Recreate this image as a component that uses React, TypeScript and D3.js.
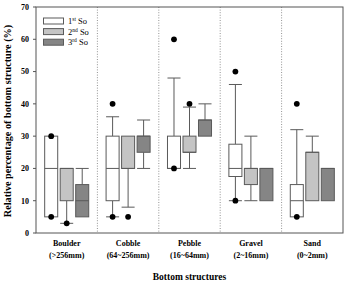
import React from 'react'
import * as d3 from 'd3'

// Data
const categories = ['Boulder', 'Cobble', 'Pebble', 'Gravel', 'Sand']
const subLabels = ['(>256mm)', '(64~256mm)', '(16~64mm)', '(2~16mm)', '(0~2mm)']
const seriesNames = ['1st', '2nd', '3rd']
const yTicks = [0, 10, 20, 30, 40, 50, 60, 70]

// per series, per category
const lowWhisker = [
  [5, 5, 20, 10, 5],
  [3, 8, 20, 10, 10],
  [5, 20, 30, 10, 10],
]
const q1 = [
  [5, 10, 20, 17.5, 5],
  [10, 20, 25, 15, 10],
  [5, 25, 30, 10, 10],
]
const median = [
  [20, 20, 20, 20, 10],
  [20, 20, 25, 20, 25],
  [10, 30, 35, 20, 20],
]
const q3 = [
  [30, 30, 30, 27.5, 15],
  [20, 30, 30, 20, 25],
  [15, 30, 35, 20, 20],
]
const highWhisker = [
  [30, 36, 48, 46, 32],
  [20, 30, 39, 30, 30],
  [20, 35, 40, 20, 20],
]
const outliers = [
  [[30, 5], [40, 5], [60, 20], [50, 10], [40, 5]],
  [[3], [5], [40], [], []],
  [[], [], [], [], []],
]

const fills = ['#ffffff', '#c4c4c4', '#858585']
const edge = '#5a5a5a'
const serif = '"Liberation Serif", "Times New Roman", serif'

export default function App() {
  const W = 346
  const H = 281
  const left = 36
  const right = 343
  const top = 7
  const bottom = 233

  const x = d3.scaleBand().domain(categories).range([left, right]).padding(0)
  const x1 = d3
    .scaleBand()
    .domain(seriesNames)
    .range([0, x.bandwidth()])
    .paddingInner(0.16)
    .paddingOuter(0.56)
  const y = d3.scaleLinear().domain([0, 70]).range([bottom, top])
  const bw = x1.bandwidth()

  return (
    <svg width={W} height={H} style={{ position: 'absolute', left: 0, top: 0 }} fontFamily={serif}>
      <rect x={0} y={0} width={W} height={H} fill="#fff" />

      {/* separators */}
      {categories.slice(1).map(c => (
        <line
          key={c}
          x1={x(c)}
          x2={x(c)}
          y1={top}
          y2={bottom}
          stroke="#777"
          strokeWidth={0.8}
          strokeDasharray="1,1.6"
        />
      ))}

      {/* boxes */}
      {seriesNames.map((s, si) =>
        categories.map((c, ci) => {
          const bx = (x(c) as number) + (x1(s) as number)
          const cx = bx + bw / 2
          return (
            <g key={s + c}>
              {highWhisker[si][ci] > q3[si][ci] && (
                <g stroke={edge} strokeWidth={1}>
                  <line x1={cx} x2={cx} y1={y(q3[si][ci])} y2={y(highWhisker[si][ci])} />
                  <line x1={bx} x2={bx + bw} y1={y(highWhisker[si][ci])} y2={y(highWhisker[si][ci])} />
                </g>
              )}
              {lowWhisker[si][ci] < q1[si][ci] && (
                <g stroke={edge} strokeWidth={1}>
                  <line x1={cx} x2={cx} y1={y(q1[si][ci])} y2={y(lowWhisker[si][ci])} />
                  <line x1={bx} x2={bx + bw} y1={y(lowWhisker[si][ci])} y2={y(lowWhisker[si][ci])} />
                </g>
              )}
              <rect
                x={bx}
                y={y(q3[si][ci])}
                width={bw}
                height={y(q1[si][ci]) - y(q3[si][ci])}
                fill={fills[si]}
                stroke={edge}
                strokeWidth={1}
              />
              <line x1={bx} x2={bx + bw} y1={y(median[si][ci])} y2={y(median[si][ci])} stroke={edge} strokeWidth={1} />
              {outliers[si][ci].map((v, k) => (
                <circle key={k} cx={cx} cy={y(v)} r={2.9} fill="#000" />
              ))}
            </g>
          )
        })
      )}

      {/* frame */}
      <rect x={left} y={top} width={right - left} height={bottom - top} fill="none" stroke="#555" strokeWidth={1} />

      {/* y axis */}
      {yTicks.map(t => (
        <g key={t}>
          <line x1={left - 3} x2={left} y1={y(t)} y2={y(t)} stroke="#555" />
          <text x={left - 7} y={y(t)} dy="0.35em" textAnchor="end" fontSize={8} fontWeight="bold">
            {t}
          </text>
        </g>
      ))}
      <text
        transform={`translate(10.5,${(top + bottom) / 2 + 1}) rotate(-90)`}
        textAnchor="middle"
        fontSize={10.2}
        fontWeight="bold"
      >
        Relative percentage of bottom structure (%)
      </text>

      {/* x labels */}
      {categories.map((c, i) => (
        <g key={c} fontSize={8} fontWeight="bold" textAnchor="middle">
          <text x={(x(c) as number) + x.bandwidth() / 2} y={246}>
            {c}
          </text>
          <text x={(x(c) as number) + x.bandwidth() / 2} y={258}>
            {subLabels[i]}
          </text>
        </g>
      ))}
      <text x={(left + right) / 2} y={280} textAnchor="middle" fontSize={9.5} fontWeight="bold">
        Bottom structures
      </text>

      {/* legend */}
      {seriesNames.map((s, i) => {
        const ly = 18 + i * 10.6
        const sup = s.slice(1)
        return (
          <g key={s}>
            <rect x={43.5} y={ly} width={20} height={6} fill={fills[i]} stroke={edge} strokeWidth={1} />
            <text x={68} y={ly + 6} fontSize={8.5}>
              {s[0]}
              <tspan fontSize={5.5} dy={-3}>
                {sup}
              </tspan>
              <tspan dy={3}> So</tspan>
            </text>
          </g>
        )
      })}
    </svg>
  )
}
